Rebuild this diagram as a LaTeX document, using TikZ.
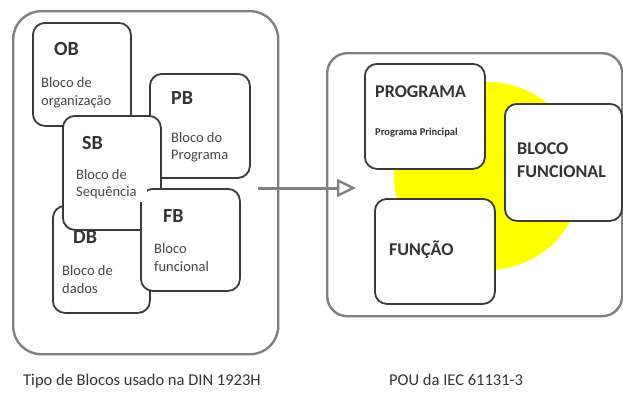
\documentclass[tikz,border=0pt]{standalone}
\usepackage{fontspec}
\setmainfont{Carlito}
\usetikzlibrary{arrows.meta}

\definecolor{framegray}{HTML}{808080}
\definecolor{boxline}{HTML}{3A3A3A}
\definecolor{txt}{HTML}{333333}
\definecolor{sun}{HTML}{FFFF00}

\tikzset{
  frame/.style={draw=framegray, line width=2.4pt, rounded corners=#1, fill=white, anchor=north west, inner sep=0pt},
  blk/.style={draw=boxline, line width=1.8pt, rounded corners=12pt, fill=white, anchor=north west, inner sep=0pt},
  tag/.style={font=\fontsize{20}{20}\selectfont\bfseries, text=txt, anchor=base west, inner sep=0pt},
  body/.style={font=\fontsize{14.5}{14.5}\selectfont, text=txt!90, anchor=base west, inner sep=0pt},
  head/.style={font=\fontsize{18}{18}\selectfont\bfseries, text=txt, anchor=base west, inner sep=0pt},
  small/.style={font=\fontsize{10.5}{10.5}\selectfont\bfseries, text=txt, anchor=base west, inner sep=0pt},
  caption/.style={font=\fontsize{16.5}{16.5}\selectfont, text=txt, anchor=base west, inner sep=0pt},
  flow/.style={draw=framegray, line width=3pt, -{Triangle[open, length=19pt, width=18pt, line width=2.4pt]}}
}

\begin{document}
\begin{tikzpicture}[x=1pt, y=-1pt]
  \useasboundingbox (0,0) rectangle (623,392);

  % ---- DIN 1923H block types ----
  \node[frame=28pt, minimum width=265pt, minimum height=343pt] (lbox) at (12,10) {};

  \node[blk, minimum width=98pt, minimum height=103pt] (ob) at (32,22) {};
  \node[tag] (obt) at (54,55) {OB};
  \node[body] (ob1) at (41,87) {Bloco de};
  \node[body] (ob2) at (41,105) {organização};

  \node[blk, minimum width=100pt, minimum height=104pt] (pb) at (149,73) {};
  \node[tag] (pbt) at (171,104) {PB};
  \node[body] (pb1) at (171,142) {Bloco do};
  \node[body] (pb2) at (171,159) {Programa};

  \node[blk, minimum width=97pt, minimum height=107pt] (db) at (52,205) {};
  \node[tag] (dbt) at (73,243) {DB};
  \node[body] (db1) at (62,275) {Bloco de};
  \node[body] (db2) at (62,293) {dados};

  \node[blk, minimum width=98pt, minimum height=114pt] (sb) at (62,115) {};
  \node[tag] (sbt) at (82,149) {SB};
  \node[body] (sb1) at (76,179) {Bloco de};

  \node[blk, minimum width=99pt, minimum height=102pt] (fb) at (140,188) {};
  \node[tag] (fbt) at (163,222) {FB};
  \node[body] (fb1) at (154,253) {Bloco};
  \node[body] (fb2) at (154,271) {funcional};

  % text frame of "Sequência" lies over the corner of FB
  \fill[white] (74,182) rectangle (147,202);
  \node[body] (sb2) at (76,196) {Sequência};

  % ---- IEC 61131-3 POU ----
  \node[frame=20pt, minimum width=295pt, minimum height=263pt] (rbox) at (326,52) {};
  \fill[sun] (488,176) circle[radius=94pt];

  \node[blk, minimum width=120pt, minimum height=105pt] (prg) at (364,63) {};
  \node[head] (prgt) at (375,97) {PROGRAMA};
  \node[small] (prgs) at (375,135) {Programa Principal};

  \node[blk, minimum width=117pt, minimum height=117pt] (fbk) at (504,103) {};
  \node[head] (fbk1) at (517,154) {BLOCO};
  \node[head] (fbk2) at (517,177) {FUNCIONAL};

  \node[blk, minimum width=120pt, minimum height=105pt] (fun) at (374,198) {};
  \node[head] (funt) at (389,255) {FUNÇÃO};

  % ---- transition arrow ----
  \coordinate (a1) at (258,188);
  \coordinate (a2) at (356,188);
  \draw[flow] (a1) -- (a2);

  % ---- captions ----
  \node[caption] (cl) at (23,385) {Tipo de Blocos usado na DIN 1923H};
  \node[caption] (cr) at (389,385) {POU da IEC 61131-3};
\end{tikzpicture}
\end{document}
